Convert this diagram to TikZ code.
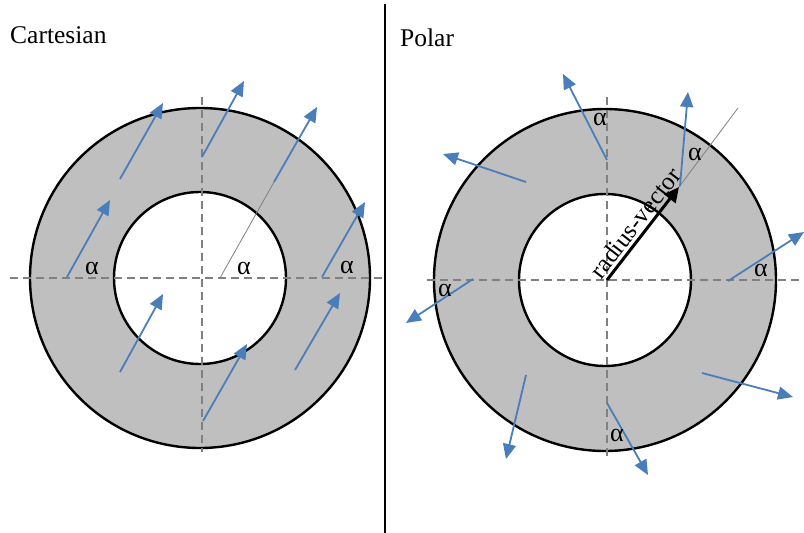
\documentclass[tikz,border=0pt]{standalone}
\usepackage{fontspec}
\setmainfont{Liberation Serif}
\usetikzlibrary{arrows.meta}
\definecolor{arrblue}{RGB}{74,126,187}
\definecolor{ringgray}{RGB}{191,191,191}
\definecolor{dashgray}{RGB}{128,128,128}
\tikzset{
  ring/.style={draw=black,line width=2.4pt},
  axisline/.style={draw=dashgray,line width=1.2pt,dash pattern=on 8pt off 5pt},
  bluearrow/.style={draw=arrblue,line width=1.8pt,-{Triangle[length=15pt,width=13pt]}},
  thinline/.style={draw=dashgray,line width=0.8pt},
  radvec/.style={draw=black,line width=3pt,-{Triangle[length=15pt,width=14pt]}},
  alphalabel/.style={font=\fontsize{26}{28}\selectfont,inner sep=0pt},
  title/.style={font=\fontsize{25.5}{28}\selectfont,inner sep=0pt,anchor=base west},
}
\begin{document}
\begin{tikzpicture}[x=1pt,y=-1pt]
\useasboundingbox (0,0) rectangle (804,533);
% ---------- Cartesian ----------
\coordinate (lc) at (200,278);
\fill[ringgray,even odd rule] (lc) circle[radius=170] (lc) circle[radius=86];
\draw[ring] (lc) circle[radius=170];
\draw[ring] (lc) circle[radius=86];
\coordinate (lh1) at (10,278); \coordinate (lh2) at (384,278);
\coordinate (lv1) at (202,97); \coordinate (lv2) at (202,452);
\draw[axisline] (lh1) -- (lh2);
\draw[axisline] (lv1) -- (lv2);
\node[title] (cart) at (10,43) {Cartesian};
% arrows
\coordinate (a1s) at (67,277);  \coordinate (a1e) at (110,200);
\coordinate (a2s) at (120,179); \coordinate (a2e) at (163,103);
\coordinate (a3s) at (202,157); \coordinate (a3e) at (244,81);
\coordinate (a4o) at (220,278); \coordinate (a4s) at (274,182); \coordinate (a4e) at (317,107);
\coordinate (a5s) at (322,277); \coordinate (a5e) at (365,202);
\coordinate (a6s) at (120,372); \coordinate (a6e) at (163,294);
\coordinate (a7s) at (203,421); \coordinate (a7e) at (247,344);
\coordinate (a8s) at (295,370); \coordinate (a8e) at (340,293);
\draw[thinline] (a4o) -- (a4s);
\foreach \i in {1,...,8}{\draw[bluearrow] (a\i s) -- (a\i e);}
\node[alphalabel] (la1) at (92,268) {α};
\node[alphalabel] (la2) at (244,268) {α};
\node[alphalabel] (la3) at (347,267) {α};
% ---------- divider ----------
\coordinate (d1) at (385,4); \coordinate (d2) at (385,533);
\draw[line width=2pt] (d1) -- (d2);
% ---------- Polar ----------
\coordinate (rc) at (605,280);
\fill[ringgray,even odd rule] (rc) circle[radius=171] (rc) circle[radius=86];
\draw[ring] (rc) circle[radius=171];
\draw[ring] (rc) circle[radius=86];
\coordinate (rh1) at (427,280); \coordinate (rh2) at (804,280);
\coordinate (rv1) at (607,97); \coordinate (rv2) at (607,457);
\draw[axisline] (rh1) -- (rh2);
\draw[axisline] (rv1) -- (rv2);
\node[title] (polar) at (400,46) {Polar};
\coordinate (rvs) at (607,280); \coordinate (rve) at (679,187); \coordinate (rvg) at (738,108);
\draw[thinline] (rve) -- (rvg);
\draw[radvec] (rvs) -- (rve) node[pos=0.53,sloped,anchor=south,inner sep=2.5pt,font=\fontsize{25}{27}\selectfont] (rvt) {radius-vector};
\coordinate (b1s) at (607,160); \coordinate (b1e) at (563,74);
\coordinate (b2s) at (526,182); \coordinate (b2e) at (443,154);
\coordinate (b3s) at (680,186); \coordinate (b3e) at (688,92);
\coordinate (b4s) at (728,281); \coordinate (b4e) at (804,232);
\coordinate (b5s) at (473,279); \coordinate (b5e) at (406,323);
\coordinate (b6s) at (526,375); \coordinate (b6e) at (506,459);
\coordinate (b7s) at (607,403); \coordinate (b7e) at (648,475);
\coordinate (b8s) at (702,373); \coordinate (b8e) at (793,397);
\foreach \i in {1,...,8}{\draw[bluearrow] (b\i s) -- (b\i e);}
\node[alphalabel] (ra1) at (600,119) {α};
\node[alphalabel] (ra2) at (695,154) {α};
\node[alphalabel] (ra3) at (761,270) {α};
\node[alphalabel] (ra4) at (445,290) {α};
\node[alphalabel] (ra5) at (617,435) {α};
\end{tikzpicture}
\end{document}
